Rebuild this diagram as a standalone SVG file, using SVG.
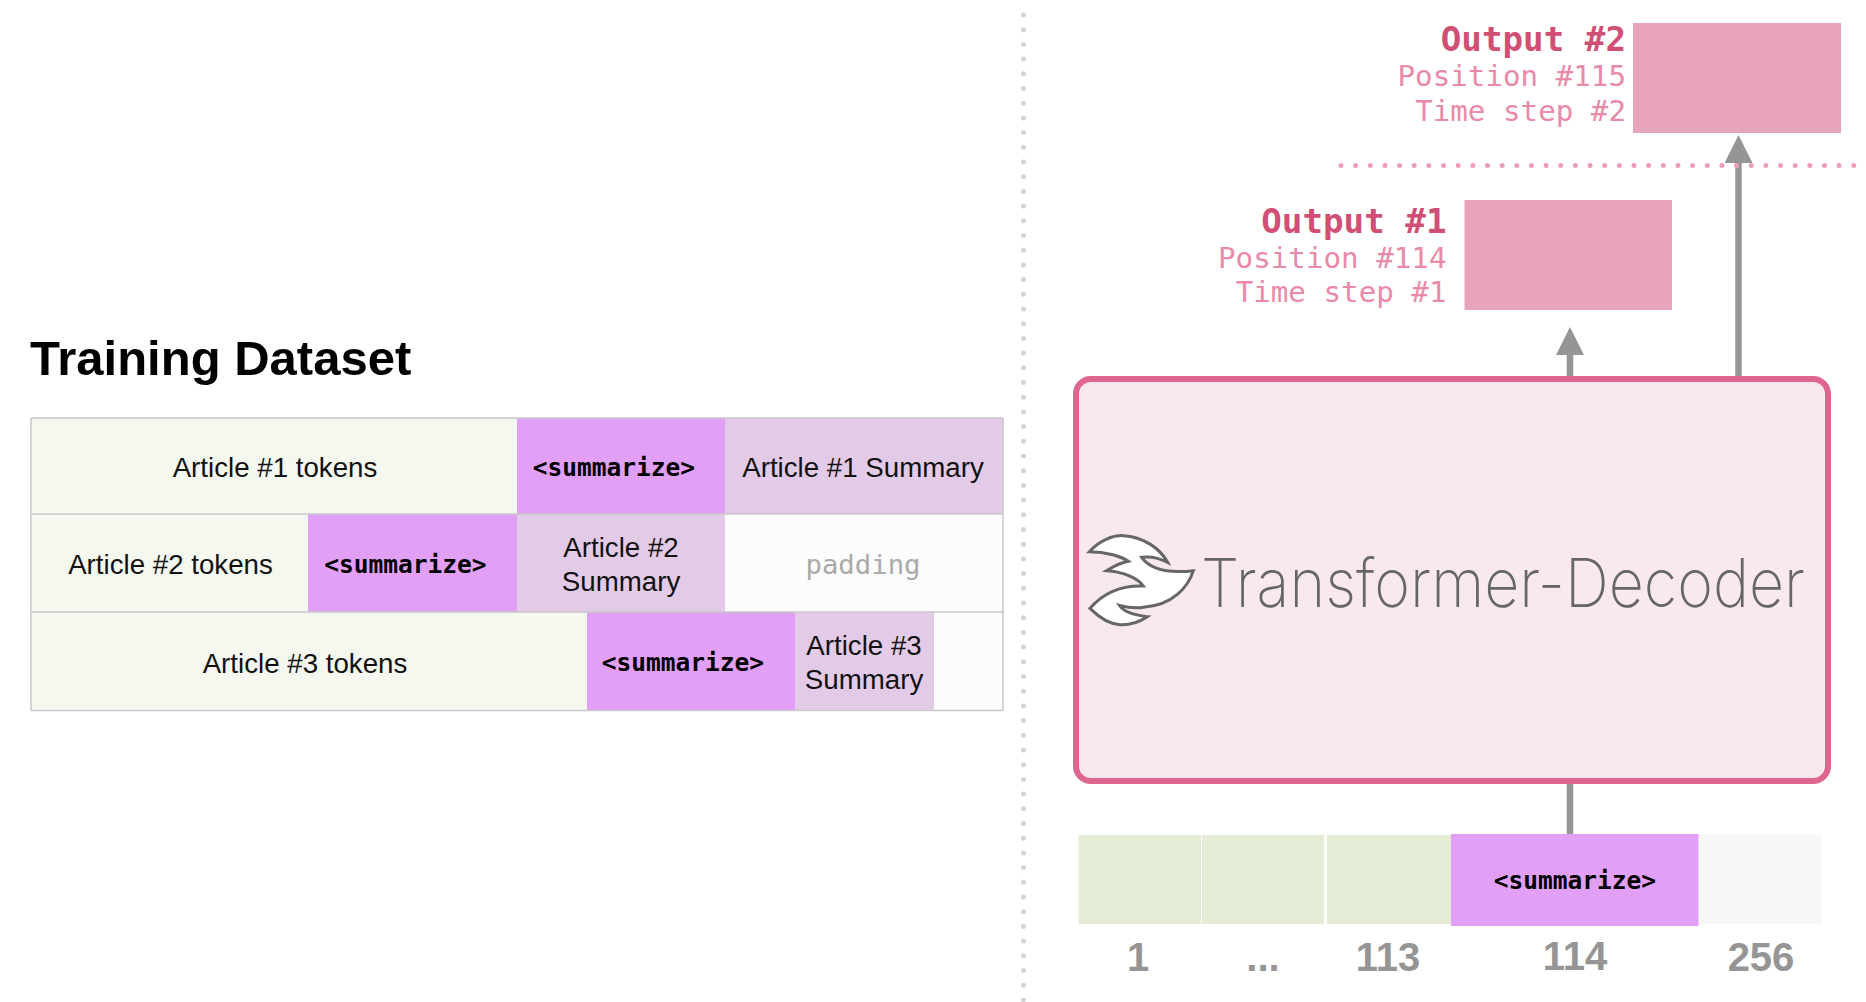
<svg xmlns="http://www.w3.org/2000/svg" width="1866" height="1002" viewBox="0 0 1866 1002">
<defs>
<marker id="ah" markerUnits="userSpaceOnUse" markerWidth="30" markerHeight="28" refX="3" refY="14" orient="auto"><path d="M0,0L28,14L0,28Z" fill="#959595"/></marker>
</defs>
<style>
.sans{font-family:"Liberation Sans",Arial,sans-serif}
.mono{font-family:"DejaVu Sans Mono","Liberation Mono",monospace}
.t{font-size:27.700px;fill:#111;text-anchor:middle}
.s{font-size:24.500px;font-weight:700;fill:#000;text-anchor:middle}
.tok{fill:#f5f8ef}.pur{fill:#e1a0f6}.sum{fill:#e3cbe8}.pad{fill:#fcfcfc}
.h1{font-size:34.200px;font-weight:700;fill:#d14f75;text-anchor:end}
.h2{font-size:29.200px;fill:#e88aa8;text-anchor:end}
.out{fill:#e8a4ba}
.bar{fill:#e5ecd6}
.n{font-size:40px;font-weight:700;fill:#959595;text-anchor:middle}
.c{stroke:#959595;stroke-width:6.500;fill:none}
.grid{stroke:#c8c8c8;stroke-width:1.500;fill:none}
</style>
<rect width="1866" height="1002" fill="#fff"/>
<g id="divider"><path d="M1023.500,15V1002" stroke="#d4d4d4" stroke-width="5" stroke-linecap="round" stroke-dasharray="0 14.700" fill="none"/></g>
<g id="title"><text class="sans" x="30" y="375" font-size="49" font-weight="700" fill="#000">Training Dataset</text></g>
<g id="row1">
<rect class="tok" x="31" y="418" width="486" height="96"/><text class="sans t" x="275" y="477">Article #1 tokens</text>
<rect class="pur" x="517" y="418" width="208" height="96"/><text class="mono s" x="614" y="476">&lt;summarize&gt;</text>
<rect class="sum" x="725" y="418" width="278" height="96"/><text class="sans t" x="863" y="477">Article #1 Summary</text>
</g>
<g id="row2">
<rect class="tok" x="31" y="514" width="277" height="98"/><text class="sans t" x="170.500" y="574">Article #2 tokens</text>
<rect class="pur" x="308" y="514" width="209" height="98"/><text class="mono s" x="405.500" y="573">&lt;summarize&gt;</text>
<rect class="sum" x="517" y="514" width="208" height="98"/><text class="sans t" x="621" y="557">Article #2</text><text class="sans t" x="621" y="591">Summary</text>
<rect class="pad" x="725" y="514" width="278" height="98"/><text class="mono" x="863" y="574" font-size="27.300" fill="#aaa" text-anchor="middle">padding</text>
</g>
<g id="row3">
<rect class="tok" x="31" y="612" width="556" height="98.500"/><text class="sans t" x="305" y="673">Article #3 tokens</text>
<rect class="pur" x="587" y="612" width="208" height="98.500"/><text class="mono s" x="683" y="671">&lt;summarize&gt;</text>
<rect class="sum" x="795" y="612" width="139" height="98.500"/><text class="sans t" x="864" y="655">Article #3</text><text class="sans t" x="864" y="689">Summary</text>
<rect class="pad" x="934" y="612" width="69" height="98.500"/>
</g>
<g id="table-grid"><path class="grid" d="M31,418H1003M31,514H1003M31,612H1003M31,710.500H1003M31,418V710.500M1003,418V710.500"/></g>
<g id="connectors">
<path class="c" d="M1570,784V835"/>
<path class="c" d="M1570,378V352" marker-end="url(#ah)"/>
<path class="c" d="M1738.500,378V160" marker-end="url(#ah)"/>
</g>
<g id="time-separator"><path d="M1341,165.500H1866" stroke="#ee9db6" stroke-width="5" stroke-linecap="round" stroke-dasharray="0 14.650" fill="none"/></g>
<g id="output2">
<rect class="out" x="1633" y="23" width="208" height="110"/>
<text class="mono h1" x="1626" y="51">Output #2</text><text class="mono h2" x="1626" y="86">Position #115</text><text class="mono h2" x="1626" y="121">Time step #2</text>
</g>
<g id="output1">
<rect class="out" x="1464.500" y="200" width="207.500" height="110"/>
<text class="mono h1" x="1446.500" y="233">Output #1</text><text class="mono h2" x="1446.500" y="268">Position #114</text><text class="mono h2" x="1446.500" y="302">Time step #1</text>
</g>
<g id="decoder">
<rect x="1076" y="379" width="752" height="402" rx="15" fill="#f9e9ef" stroke="#e0658f" stroke-width="6"/>
<path transform="translate(1060 500) scale(.3333)" d="M88,155C120,120 160,105 190,107C250,110 300,145 323,187C300,175 270,168 245,172C265,200 310,222 400,212C385,260 340,315 250,322C225,326 200,322 178,316C190,335 215,345 262,350C235,368 205,375 180,374C145,372 115,350 90,325C120,290 170,255 250,258C235,235 190,215 140,212C160,200 175,190 205,184C185,170 140,155 88,155Z" fill="#fff" stroke="#666" stroke-width="9" stroke-linejoin="miter"/>
<text x="1201" y="607" font-family="Inter,Roboto,&quot;Liberation Sans&quot;,sans-serif" font-size="67" font-weight="200" fill="#666" textLength="604" lengthAdjust="spacingAndGlyphs">Transformer-Decoder</text>
</g>
<g id="tokens">
<rect class="bar" x="1078.500" y="835" width="122.500" height="89"/>
<rect class="bar" x="1202" y="835" width="122" height="89"/>
<rect class="bar" x="1327" y="835" width="124" height="89"/>
<rect x="1698" y="835" width="123.500" height="89" fill="#f7f7f7"/>
<rect class="pur" x="1451" y="834" width="247.500" height="92"/>
<text class="mono" x="1575" y="889" font-size="24.500" font-weight="700" fill="#000" text-anchor="middle">&lt;summarize&gt;</text>
</g>
<g id="positions">
<text class="sans n" x="1138" y="971">1</text><text class="sans n" x="1263" y="971">...</text><text class="sans n" x="1388" y="971">113</text><text class="sans n" x="1575" y="970">114</text><text class="sans n" x="1761" y="971">256</text>
</g>
</svg>
